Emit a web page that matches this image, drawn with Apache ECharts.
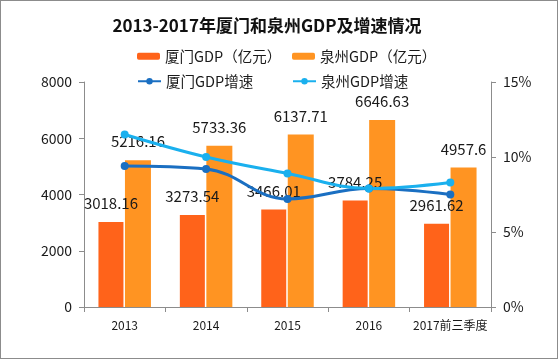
<!DOCTYPE html>
<html><head><meta charset="utf-8">
<script src="https://cdn.jsdelivr.net/npm/echarts@6/dist/echarts.min.js"></script>
<style>html,body{margin:0;padding:0;background:#fff}#c{width:558px;height:359px;box-sizing:border-box;border:1px solid #8c8c8c}</style>
</head><body><div id="c"></div>
<script>
const categories = ['2013','2014','2015','2016','2017前三季度'];
const xiamenGDP = [3018.16, 3273.54, 3466.01, 3784.25, 2961.62];
const quanzhouGDP = [5216.16, 5733.36, 6137.71, 6646.63, 4957.6];
const xiamenGrowth = [9.4, 9.2, 7.2, 7.9, 7.5];
const quanzhouGrowth = [11.5, 10.0, 8.9, 7.9, 8.3];
const leftTicks = [0, 2000, 4000, 6000, 8000];
const rightTicks = [0, 5, 10, 15];

const font = '"Noto Sans CJK SC", "Noto Sans", sans-serif';
const chart = echarts.init(document.getElementById('c'));
const legendText = {fontSize: 14.5, color: '#1a1a1a', fontFamily: font};
chart.setOption({
  backgroundColor: '#fff',
  animation: false,
  textStyle: {fontFamily: font},
  title: {text: '2013-2017年厦门和泉州GDP及增速情况', left: 261, textAlign: 'center', top: 11,
    textStyle: {fontSize: 17, fontWeight: 'bold', color: '#111', fontFamily: font}},
  legend: [
    {data: ['厦门GDP（亿元）'], left: 131, top: 43, itemWidth: 23, itemHeight: 7, itemGap: 4, textStyle: legendText},
    {data: ['泉州GDP（亿元）'], left: 286, top: 43, itemWidth: 23, itemHeight: 7, itemGap: 4, textStyle: legendText},
    {data: ['厦门GDP增速'], left: 131, top: 68, itemWidth: 23, itemHeight: 8, textStyle: legendText},
    {data: ['泉州GDP增速'], left: 286, top: 68, itemWidth: 23, itemHeight: 8, textStyle: legendText}
  ],
  grid: {left: 83, right: 66, top: 81, bottom: 51, containLabel: false},
  xAxis: {type: 'category', data: categories, boundaryGap: true,
    axisLine: {lineStyle: {color: '#8c8c8c', width: 1}},
    axisTick: {show: true, length: 5, lineStyle: {color: '#8c8c8c'}},
    axisLabel: {color: '#1a1a1a', fontSize: 12, margin: 12, interval: 0, fontFamily: font}},
  yAxis: [
    {type: 'value', min: leftTicks[0], max: leftTicks[leftTicks.length-1], interval: 2000,
      axisLine: {show: true, lineStyle: {color: '#8c8c8c'}},
      axisTick: {show: true, length: 5, lineStyle: {color: '#8c8c8c'}},
      splitLine: {show: false},
      axisLabel: {color: '#1a1a1a', fontSize: 14, margin: 12, formatter: v => String(v), fontFamily: font}},
    {type: 'value', min: rightTicks[0], max: rightTicks[rightTicks.length-1], interval: 5, position: 'right',
      axisLine: {show: true, lineStyle: {color: '#8c8c8c'}},
      axisTick: {show: true, length: 5, lineStyle: {color: '#8c8c8c'}},
      splitLine: {show: false},
      axisLabel: {color: '#1a1a1a', fontSize: 14, margin: 12, formatter: '{value}%', fontFamily: font}}
  ],
  series: [
    {name: '厦门GDP（亿元）', type: 'bar', data: xiamenGDP, barWidth: 25, barGap: '6%',
      itemStyle: {color: '#ff631a'},
      label: {show: true, position: 'top', distance: 11, color: '#1a1a1a', fontSize: 15, fontFamily: font}},
    {name: '泉州GDP（亿元）', type: 'bar', data: quanzhouGDP, barWidth: 26,
      itemStyle: {color: '#ff9422'},
      label: {show: true, position: 'top', distance: 11, color: '#1a1a1a', fontSize: 15, fontFamily: font}},
    {name: '厦门GDP增速', type: 'line', yAxisIndex: 1, data: xiamenGrowth, smooth: 0.4,
      symbol: 'circle', symbolSize: 8, z: 5,
      lineStyle: {color: '#1a6fc2', width: 3}, itemStyle: {color: '#1a6fc2'}},
    {name: '泉州GDP增速', type: 'line', yAxisIndex: 1, data: quanzhouGrowth, smooth: 0.4,
      symbol: 'circle', symbolSize: 8, z: 5,
      lineStyle: {color: '#1ab0ee', width: 3}, itemStyle: {color: '#1ab0ee'}}
  ]
});
</script></body></html>
